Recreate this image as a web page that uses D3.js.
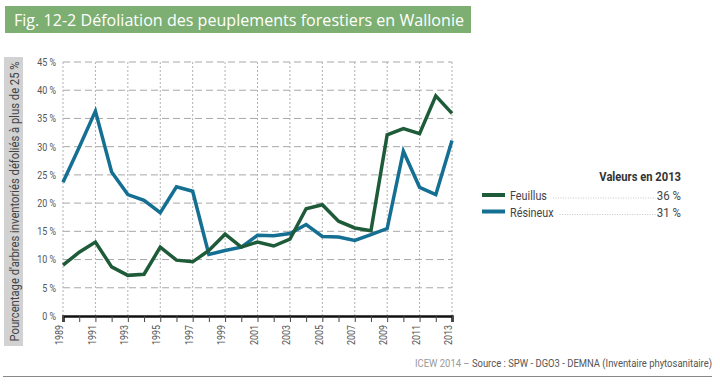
<!DOCTYPE html>
<html>
<head>
<meta charset="utf-8">
<script src="https://cdn.jsdelivr.net/npm/d3@7"></script>
<style>
  body { margin: 0; background: #fff; }
  svg { font-family: "Roboto", "Liberation Sans", sans-serif; }
</style>
</head>
<body>
<div id="chart"></div>
<script>
// Data
var years = d3.range(1989, 2014);
var feuillus = [9.0, 11.3, 13.1, 8.7, 7.2, 7.4, 12.2, 9.9, 9.6, 11.6, 14.5, 12.2, 13.1, 12.4, 13.6, 19.0, 19.7, 16.8, 15.6, 15.1, 32.1, 33.2, 32.3, 39.0, 35.9];
var resineux = [23.7, 29.9, 36.3, 25.5, 21.5, 20.5, 18.3, 22.9, 22.1, 10.9, 11.6, 12.2, 14.3, 14.2, 14.6, 16.2, 14.1, 14.0, 13.4, 14.4, 15.5, 29.2, 22.8, 21.5, 31.1];
var yTicks = [0, 5, 10, 15, 20, 25, 30, 35, 40, 45];
var xLabels = d3.range(1989, 2014, 2);
var seriesNames = ["Feuillus", "Résineux"];
var seriesValues2013 = ["36 %", "31 %"];
var colors = ["#1e5b38", "#146f93"];

var w = 720, h = 384;
var margin = {top: 62, right: 268, bottom: 68, left: 63};
var width = w - margin.left - margin.right;
var height = h - margin.top - margin.bottom;

// squeeze text horizontally to mimic the condensed font of the original
function condense(sel, f) {
  sel.each(function() {
    var len = this.getComputedTextLength();
    d3.select(this)
      .attr("textLength", len * f)
      .attr("lengthAdjust", "spacingAndGlyphs");
  });
}

var svg = d3.select("#chart")
  .append("svg")
    .attr("width", w)
    .attr("height", h);

// Title bar
svg.append("rect")
  .attr("x", 5).attr("y", 6)
  .attr("width", 466).attr("height", 27)
  .attr("fill", "#7daf72");
svg.append("text")
  .attr("x", 14).attr("y", 26)
  .attr("fill", "#fff")
  .attr("font-family", "'Open Sans', 'DejaVu Sans', sans-serif")
  .attr("font-size", "17px")
  .attr("textLength", 450)
  .attr("lengthAdjust", "spacingAndGlyphs")
  .text("Fig. 12-2 Défoliation des peuplements forestiers en Wallonie");

// Y axis label box
svg.append("rect")
  .attr("x", 4).attr("y", 57)
  .attr("width", 19).attr("height", 289)
  .attr("fill", "#d2d2d2");
svg.append("text")
  .attr("transform", "translate(18.5,201.5)rotate(-90)")
  .attr("text-anchor", "middle")
  .attr("font-size", "13px")
  .attr("fill", "#444")
  .attr("textLength", 280)
  .attr("lengthAdjust", "spacingAndGlyphs")
  .text("Pourcentage d'arbres inventoriés défoliés à plus de 25 %");

var g = svg.append("g")
  .attr("transform", "translate(" + margin.left + "," + margin.top + ")");

var x = d3.scaleLinear().domain([1989, 2013]).range([0, width]);
var y = d3.scaleLinear().domain([0, 45]).range([height, 0]);

// Horizontal dashed grid
g.selectAll(".hgrid")
  .data(yTicks.slice(1))
  .enter().append("line")
    .attr("x1", 0).attr("x2", width)
    .attr("y1", function(d) { return y(d); })
    .attr("y2", function(d) { return y(d); })
    .attr("stroke", "#a8a8a8")
    .attr("stroke-width", 1)
    .attr("stroke-dasharray", "7,4");

// Vertical dotted grid
g.selectAll(".vgrid")
  .data(xLabels)
  .enter().append("line")
    .attr("x1", function(d) { return x(d); })
    .attr("x2", function(d) { return x(d); })
    .attr("y1", 0).attr("y2", height)
    .attr("stroke", "#b0b0b0")
    .attr("stroke-width", 1)
    .attr("stroke-dasharray", "2,2");

// Y axis labels
var yAxis = g.append("g")
  .call(d3.axisLeft(y).tickValues(yTicks).tickSize(0).tickPadding(7)
    .tickFormat(function(d) { return d + " %"; }));
yAxis.select(".domain").remove();
yAxis.selectAll("text")
  .attr("font-size", "10.5px")
  .attr("fill", "#555")
  .attr("font-family", "'Roboto', sans-serif")
  .call(condense, 0.85);

// X axis
var xAxis = g.append("g")
  .attr("transform", "translate(0," + height + ")")
  .call(d3.axisBottom(x).tickValues(years).tickSize(6).tickFormat(function(d) {
    return d % 2 === 1 ? d : "";
  }));
xAxis.select(".domain")
  .attr("stroke", "#111")
  .attr("stroke-width", 2.5);
xAxis.selectAll(".tick line").attr("stroke", "#444");
xAxis.selectAll("text")
  .attr("transform", "rotate(-90)")
  .attr("text-anchor", "end")
  .attr("x", -9)
  .attr("y", -4)
  .attr("dy", "0.35em")
  .attr("font-size", "10.5px")
  .attr("fill", "#555")
  .attr("font-family", "'Roboto', sans-serif")
  .call(condense, 0.85);

// Lines
var line = d3.line()
  .x(function(d, i) { return x(years[i]); })
  .y(function(d) { return y(d); });

[resineux, feuillus].forEach(function(s, k) {
  g.append("path")
    .datum(s)
    .attr("fill", "none")
    .attr("stroke", k === 0 ? colors[1] : colors[0])
    .attr("stroke-width", 3.5)
    .attr("stroke-linejoin", "miter")
    .attr("d", line);
});

// Legend
var lg = svg.append("g");
lg.append("text")
  .attr("x", 681).attr("y", 181)
  .attr("text-anchor", "end")
  .attr("font-weight", "bold")
  .attr("font-size", "13px")
  .attr("fill", "#333")
  .text("Valeurs en 2013")
  .call(condense, 0.86);

seriesNames.forEach(function(name, i) {
  var yy = 195 + i * 16.5;
  lg.append("line")
    .attr("x1", 482).attr("x2", 505)
    .attr("y1", yy).attr("y2", yy)
    .attr("stroke", colors[i])
    .attr("stroke-width", 4);
  var t = lg.append("text")
    .attr("x", 510).attr("y", yy + 5)
    .attr("font-size", "13.5px")
    .attr("fill", "#444")
    .text(name)
    .call(condense, 0.8);
  var tw = +t.attr("textLength");
  var v = lg.append("text")
    .attr("x", 681).attr("y", yy + 5)
    .attr("text-anchor", "end")
    .attr("font-size", "13.5px")
    .attr("fill", "#444")
    .text(seriesValues2013[i])
    .call(condense, 0.85);
  var vw = +v.attr("textLength");
  lg.append("line")
    .attr("x1", 510 + tw + 6).attr("x2", 681 - vw - 1)
    .attr("y1", yy + 3).attr("y2", yy + 3)
    .attr("stroke", "#bbb")
    .attr("stroke-width", 0.8)
    .attr("stroke-dasharray", "1,1.5");
});

// Footer, squeezed with a scale transform
var foot = svg.append("g")
  .attr("transform", "translate(712,367) scale(0.86,1)");
foot.append("text")
  .attr("x", 0).attr("y", 0)
  .attr("text-anchor", "end")
  .attr("font-size", "11px")
  .call(function(t) {
    t.append("tspan").attr("fill", "#999").text("ICEW 2014 – ");
    t.append("tspan").attr("fill", "#555").text("Source : SPW - DGO3 - DEMNA (Inventaire phytosanitaire)");
  });

svg.append("line")
  .attr("x1", 3).attr("x2", 712)
  .attr("y1", 376.5).attr("y2", 376.5)
  .attr("stroke", "#888")
  .attr("stroke-width", 1.2);
</script>
</body>
</html>
